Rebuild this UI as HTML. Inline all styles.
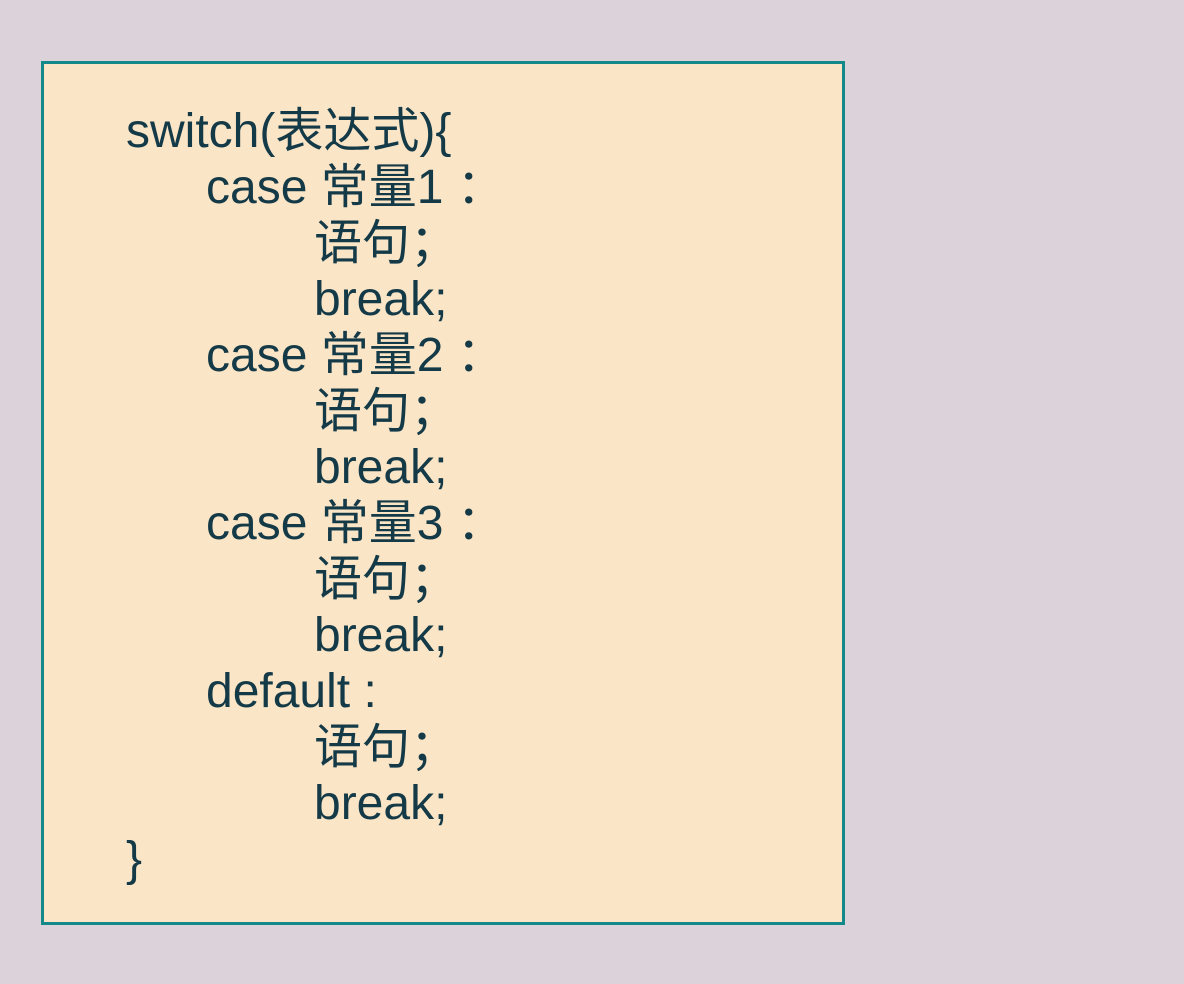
<!DOCTYPE html>
<html><head><meta charset="utf-8"><style>
html,body{margin:0;padding:0;width:1184px;height:984px;background:#dcd2da;overflow:hidden}
.box{position:absolute;left:41px;top:61px;width:798px;height:858px;border:3px solid #13898a;background:#fbe5c7}
.t{position:absolute;font-family:"Liberation Sans","Noto Sans CJK SC",sans-serif;font-size:48px;line-height:56px;color:#143a48;white-space:pre}
</style></head><body>
<div class="box"></div>
<div class="t" style="left:126px;top:104px">switch(表达式){</div>
<div class="t" style="left:206px;top:160px">case 常量1 ：</div>
<div class="t" style="left:314px;top:216px">语句；</div>
<div class="t" style="left:314px;top:272px">break;</div>
<div class="t" style="left:206px;top:328px">case 常量2 ：</div>
<div class="t" style="left:314px;top:384px">语句；</div>
<div class="t" style="left:314px;top:440px">break;</div>
<div class="t" style="left:206px;top:496px">case 常量3 ：</div>
<div class="t" style="left:314px;top:552px">语句；</div>
<div class="t" style="left:314px;top:608px">break;</div>
<div class="t" style="left:206px;top:664px">default :</div>
<div class="t" style="left:314px;top:720px">语句；</div>
<div class="t" style="left:314px;top:776px">break;</div>
<div class="t" style="left:126px;top:832px">}</div>
</body></html>
